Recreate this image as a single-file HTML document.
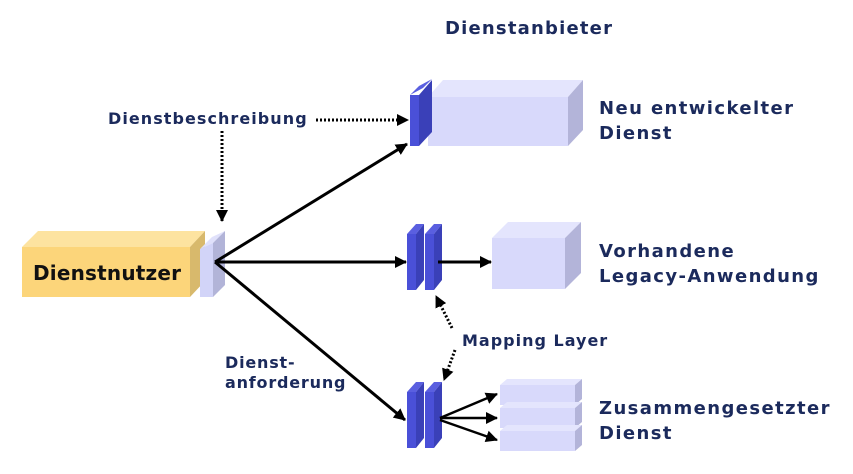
<!DOCTYPE html>
<html><head><meta charset="utf-8"><style>
html,body{margin:0;padding:0;background:#fff;width:853px;height:474px;overflow:hidden}
text{font-family:"DejaVu Sans","Liberation Sans",sans-serif;font-weight:bold;fill:#1b2a5c}
</style></head><body>
<svg width="853" height="474" viewBox="0 0 853 474" xmlns="http://www.w3.org/2000/svg">
<defs>
<marker id="a" markerWidth="12" markerHeight="12" refX="11" refY="6" orient="auto" markerUnits="userSpaceOnUse"><path d="M0,0 L12,6 L0,12 z" fill="#000"/></marker>
</defs>
<!-- Dienstnutzer -->
<polygon points="22,247 38,231 205,231 190,247" fill="#fde3a0"/>
<rect x="22" y="247" width="168" height="50" fill="#fcd57a"/>
<polygon points="190,247 205,231 205,281 190,297" fill="#d8b96c"/>
<text x="33" y="280" font-size="20" letter-spacing="0.2" style="fill:#111">Dienstnutzer</text>
<!-- interface plate -->
<polygon points="200,249 212,237 225,231 213,243" fill="#e0e1fb"/>
<polygon points="200,249 213,243 213,297 200,297" fill="#d2d4f8"/>
<polygon points="213,243 225,231 225,285 213,297" fill="#b2b4d8"/>
<!-- Top service -->
<polygon points="428,97 443,80 583,80 568,97" fill="#e4e5fd"/>
<rect x="428" y="97" width="140" height="49" fill="#d8d9fb"/>
<polygon points="568,97 583,80 583,130 568,146" fill="#b3b4d9"/>
<polygon points="410,95 419,86 432,79 423,88" fill="#5a5fe0"/>
<rect x="410" y="95" width="9" height="51" fill="#4a50d8"/>
<polygon points="419,95 432,80 432,132 419,146" fill="#3a40b8"/>
<!-- Middle -->
<polygon points="492,238 508,222 581,222 565,238" fill="#e4e5fd"/>
<rect x="492" y="238" width="73" height="51" fill="#d8d9fb"/>
<polygon points="565,238 581,222 581,273 565,289" fill="#b3b4d9"/>
<rect x="407" y="234" width="9" height="56" fill="#4a50d8"/>
<polygon points="407,234 416,224 424,224 416,234" fill="#5a5fe0"/>
<polygon points="416,234 424,224 424,280 416,290" fill="#3a40b8"/>
<rect x="425" y="234" width="9" height="56" fill="#4a50d8"/>
<polygon points="425,234 434,224 442,224 434,234" fill="#5a5fe0"/>
<polygon points="434,234 442,224 442,280 434,290" fill="#3a40b8"/>
<line x1="438" y1="262" x2="491" y2="262" stroke="#000" stroke-width="3" marker-end="url(#a)"/>
<!-- Bottom -->
<g>
<polygon points="500,385 507,379 582,379 575,385" fill="#e4e5fd"/>
<rect x="500" y="385" width="75" height="20" fill="#d8d9fb"/>
<polygon points="575,385 582,379 582,399 575,405" fill="#b3b4d9"/>
<polygon points="500,408 507,402 582,402 575,408" fill="#e4e5fd"/>
<rect x="500" y="408" width="75" height="20" fill="#d8d9fb"/>
<polygon points="575,408 582,402 582,422 575,428" fill="#b3b4d9"/>
<polygon points="500,431 507,425 582,425 575,431" fill="#e4e5fd"/>
<rect x="500" y="431" width="75" height="20" fill="#d8d9fb"/>
<polygon points="575,431 582,425 582,445 575,451" fill="#b3b4d9"/>
</g>
<rect x="407" y="392" width="9" height="56" fill="#4a50d8"/>
<polygon points="407,392 416,382 424,382 416,392" fill="#5a5fe0"/>
<polygon points="416,392 424,382 424,438 416,448" fill="#3a40b8"/>
<rect x="425" y="392" width="9" height="56" fill="#4a50d8"/>
<polygon points="425,392 434,382 442,382 434,392" fill="#5a5fe0"/>
<polygon points="434,392 442,382 442,438 434,448" fill="#3a40b8"/>
<line x1="440" y1="418" x2="497" y2="394" stroke="#000" stroke-width="2.5" marker-end="url(#a)"/>
<line x1="440" y1="418" x2="497" y2="418" stroke="#000" stroke-width="2.5" marker-end="url(#a)"/>
<line x1="440" y1="420" x2="497" y2="440" stroke="#000" stroke-width="2.5" marker-end="url(#a)"/>
<!-- main arrows -->
<line x1="215" y1="262" x2="407" y2="144" stroke="#000" stroke-width="3" marker-end="url(#a)"/>
<line x1="215" y1="262" x2="406" y2="262" stroke="#000" stroke-width="3" marker-end="url(#a)"/>
<line x1="215" y1="262" x2="405" y2="420" stroke="#000" stroke-width="3" marker-end="url(#a)"/>
<!-- dotted -->
<line x1="316" y1="120" x2="408" y2="120" stroke="#000" stroke-width="3" stroke-dasharray="2,2" marker-end="url(#a)"/>
<line x1="222" y1="131" x2="222" y2="221" stroke="#000" stroke-width="3" stroke-dasharray="2,2" marker-end="url(#a)"/>
<line x1="452" y1="328" x2="436" y2="296" stroke="#000" stroke-width="3" stroke-dasharray="2,2" marker-end="url(#a)"/>
<line x1="455" y1="350" x2="444" y2="380" stroke="#000" stroke-width="3" stroke-dasharray="2,2" marker-end="url(#a)"/>
<!-- labels -->
<text x="445" y="34" font-size="18" letter-spacing="1.2">Dienstanbieter</text>
<text x="108" y="124" font-size="16" letter-spacing="1.05">Dienstbeschreibung</text>
<text x="599" y="114" font-size="18" letter-spacing="1.4">Neu entwickelter</text>
<text x="599" y="139" font-size="18" letter-spacing="1.4">Dienst</text>
<text x="599" y="257" font-size="18" letter-spacing="1.4">Vorhandene</text>
<text x="599" y="282" font-size="18" letter-spacing="1.4">Legacy-Anwendung</text>
<text x="599" y="414" font-size="18" letter-spacing="1.4">Zusammengesetzter</text>
<text x="599" y="439" font-size="18" letter-spacing="1.4">Dienst</text>
<text x="462" y="346" font-size="16" letter-spacing="1">Mapping Layer</text>
<text x="225" y="368" font-size="16" letter-spacing="0.8">Dienst-</text>
<text x="225" y="388" font-size="16" letter-spacing="0.8">anforderung</text>
</svg>
</body></html>
